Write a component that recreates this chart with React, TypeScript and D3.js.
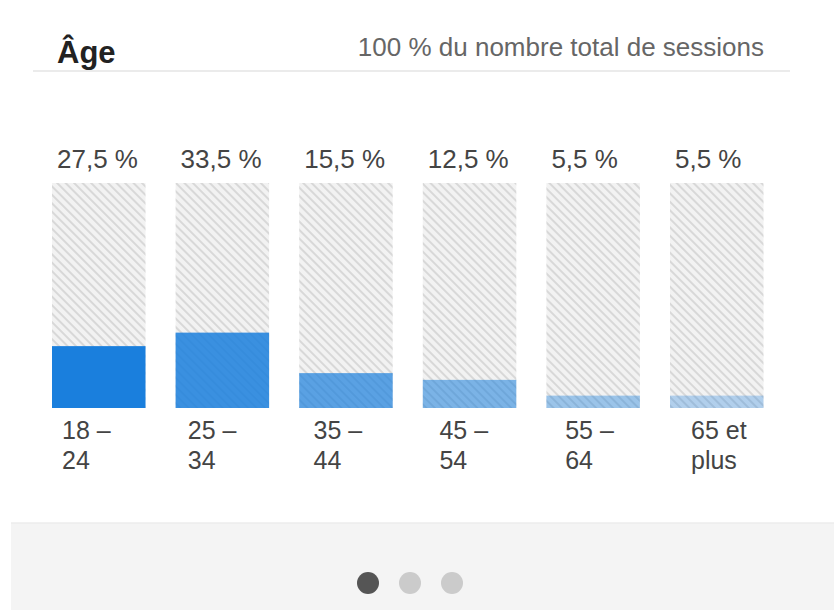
import React from "react";
import * as d3 from "d3";

const title = "Âge";
const subtitle = "100 % du nombre total de sessions";
const categories = ["18 – 24", "25 – 34", "35 – 44", "45 – 54", "55 – 64", "65 et plus"];
const values = [27.5, 33.5, 15.5, 12.5, 5.5, 5.5];
const barOpacity = [1, 0.85, 0.7, 0.55, 0.4, 0.3];
const yDomain = [0, 100];
const pagerDots = [true, false, false];

const W = 834;
const H = 610;
const FONT = "'Liberation Sans', Arial, sans-serif";

const locale = d3.formatLocale({ decimal: ",", thousands: " ", grouping: [3], currency: ["", " €"] });
const fmt = locale.format(".1f");

function wrap(label: string): string[] {
  const w = label.split(" ");
  return [w.slice(0, 2).join(" "), w.slice(2).join(" ")];
}

export default function App() {
  const x = d3.scaleBand<string>().domain(categories).range([52, 763.5]).paddingInner(0.2435).paddingOuter(0);
  const xLabel = d3.scaleBand<string>().domain(categories).range([62, 62 + 6 * 125.8]).padding(0);
  const y = d3.scaleLinear().domain(yDomain).range([408, 183]);
  const dotX = d3.scalePoint<number>().domain(pagerDots.map((_, i) => i)).range([368, 452]);

  return (
    <svg width={W} height={H} style={{ position: "absolute", left: 0, top: 0 }} fontFamily={FONT}>
      <defs>
        <pattern id="hatch" width="6" height="6" patternUnits="userSpaceOnUse" patternTransform="rotate(-45)">
          <rect width="6" height="6" fill="#f2f2f2" />
          <rect width="2" height="6" fill="#d8d8d8" />
        </pattern>
      </defs>
      <rect x={0} y={0} width={W} height={H} fill="#ffffff" />
      <rect x={11} y={523} width={W - 11} height={H - 523} fill="#f4f4f4" />
      <line x1={11} x2={W} y1={523} y2={523} stroke="#ececec" strokeWidth={1.5} />

      <text x={57} y={63} fontSize={31} fontWeight="bold" fill="#222">{title}</text>
      <text x={764} y={56} fontSize={26} fill="#666" textAnchor="end">{subtitle}</text>
      <line x1={33} x2={790} y1={71} y2={71} stroke="#ebebeb" strokeWidth={2} />

      {categories.map((c, i) => (
        <g key={c}>
          <rect x={x(c)} y={y(yDomain[1])} width={x.bandwidth()} height={y(0) - y(yDomain[1])} fill="url(#hatch)" />
          <rect x={x(c)} y={y(values[i])} width={x.bandwidth()} height={y(0) - y(values[i])} fill="#1a7fdd" fillOpacity={barOpacity[i]} />
          <text x={(x(c) as number) + 5} y={168} fontSize={26} fill="#444">{fmt(values[i]) + " %"}</text>
          {wrap(c).map((line, j) => (
            <text key={j} x={xLabel(c)} y={439 + j * 30} fontSize={25} fill="#444">{line}</text>
          ))}
        </g>
      ))}

      {pagerDots.map((active, i) => (
        <circle key={i} cx={dotX(i)} cy={583} r={11} fill={active ? "#555" : "#cbcbcb"} />
      ))}
    </svg>
  );
}
